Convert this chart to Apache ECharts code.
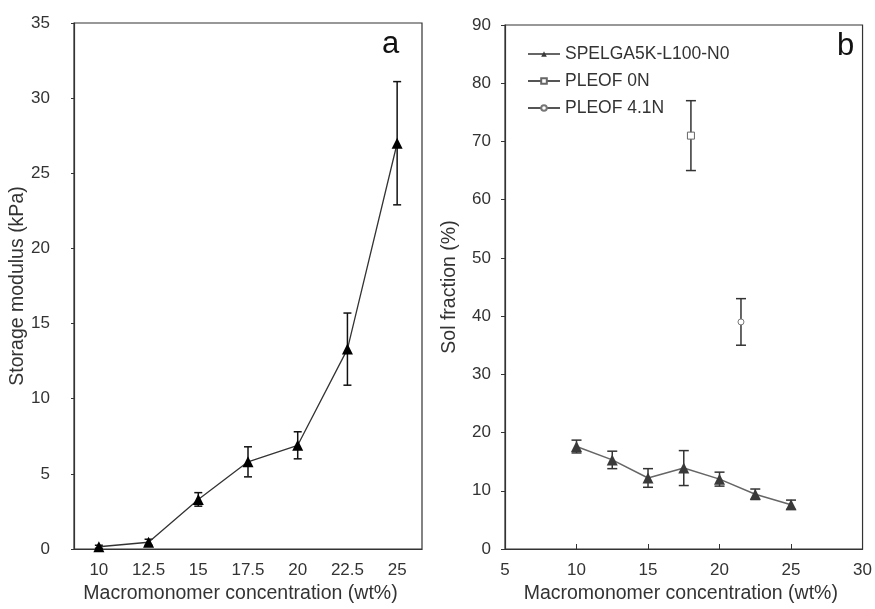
<!DOCTYPE html>
<html>
<head>
<meta charset="utf-8">
<script src="https://cdn.jsdelivr.net/npm/echarts@6/dist/echarts.min.js"></script>
<style>
    html, body { margin: 0; padding: 0; background: #fff; }
    #chart { width: 875px; height: 609px; }
</style>
</head>
<body>
<div id="chart"></div>
<script>
    // panel a
    var concA = ['10', '12.5', '15', '17.5', '20', '22.5', '25'];
    var modulus = [0.15, 0.45, 3.3, 5.8, 6.9, 13.3, 27.0];
    var modulusErr = [0.1, 0.2, 0.45, 1.0, 0.9, 2.4, 4.1];

    // panel b
    var concB = [10, 12.5, 15, 17.5, 20, 22.5, 25];
    var solFrac = [17.6, 15.3, 12.2, 13.9, 12.0, 9.4, 7.6];
    var solErr = [1.1, 1.5, 1.6, 3.0, 1.2, 0.9, 0.8];
    var pleof0X = [18], pleof0Y = [71], pleof0Err = [6];
    var pleof41X = [21.5], pleof41Y = [39], pleof41Err = [4];

    var font = 'Liberation Sans, Arial, sans-serif';

    function errData(xs, ys, errs) {
        return ys.map(function (y, i) { return [xs[i], y - errs[i], y + errs[i]]; });
    }
    function errBars(cap, color) {
        return function (params, api) {
            var lo = api.coord([api.value(0), api.value(1)]);
            var hi = api.coord([api.value(0), api.value(2)]);
            var st = { stroke: color, lineWidth: 1.5 };
            return {
                type: 'group',
                children: [
                    { type: 'line', shape: { x1: lo[0], y1: lo[1], x2: hi[0], y2: hi[1] }, style: st },
                    { type: 'line', shape: { x1: lo[0] - cap, y1: lo[1], x2: lo[0] + cap, y2: lo[1] }, style: st },
                    { type: 'line', shape: { x1: hi[0] - cap, y1: hi[1], x2: hi[0] + cap, y2: hi[1] }, style: st }
                ]
            };
        };
    }

    var chart = echarts.init(document.getElementById('chart'));
    chart.setOption({
        animation: false,
        textStyle: { fontFamily: font },
        grid: [
            { left: 74, right: 453, top: 23, bottom: 58, show: true, borderColor: '#333', borderWidth: 1.2 },
            { left: 505, right: 10, top: 25, bottom: 57, show: true, borderColor: '#333', borderWidth: 1.2 }
        ],
        legend: {
            orient: 'vertical',
            left: 522,
            top: 40,
            itemGap: 9,
            itemWidth: 32,
            itemHeight: 7,
            textStyle: { fontSize: 17.5, color: '#333', fontFamily: font },
            data: ['SPELGA5K-L100-N0', 'PLEOF 0N', 'PLEOF 4.1N']
        },
        xAxis: [
            {
                gridIndex: 0, type: 'category', data: concA, boundaryGap: true,
                name: 'Macromonomer concentration (wt%)', nameLocation: 'middle', nameGap: 35,
                nameTextStyle: { fontSize: 19.5, color: '#333', padding: [0, 15, 0, 0] },
                axisLine: { lineStyle: { color: '#333', width: 1.2 } },
                axisTick: { inside: true, length: 5, lineStyle: { color: '#333' } },
                axisLabel: { fontSize: 17, color: '#333', margin: 13 },
                splitLine: { show: false }
            },
            {
                gridIndex: 1, type: 'value', min: 5, max: 30, interval: 5,
                name: 'Macromonomer concentration (wt%)', nameLocation: 'middle', nameGap: 35,
                nameTextStyle: { fontSize: 19.5, color: '#333', padding: [0, 6, 0, 0] },
                axisLine: { lineStyle: { color: '#333', width: 1.2 } },
                axisTick: { inside: true, length: 5, lineStyle: { color: '#333' } },
                axisLabel: { fontSize: 17, color: '#333', margin: 13 },
                splitLine: { show: false }
            }
        ],
        yAxis: [
            {
                gridIndex: 0, type: 'value', min: 0, max: 35, interval: 5,
                name: 'Storage modulus (kPa)', nameLocation: 'middle', nameGap: 37,
                nameTextStyle: { fontSize: 19.5, color: '#333' },
                axisLine: { show: true, lineStyle: { color: '#333', width: 1.2 } },
                axisTick: { show: true, length: 3, lineStyle: { color: '#333' } },
                axisLabel: { fontSize: 17, color: '#333', margin: 24 },
                splitLine: { show: false }
            },
            {
                gridIndex: 1, type: 'value', min: 0, max: 90, interval: 10,
                name: 'Sol fraction (%)', nameLocation: 'middle', nameGap: 45,
                nameTextStyle: { fontSize: 19.5, color: '#333' },
                axisLine: { show: true, lineStyle: { color: '#333', width: 1.2 } },
                axisTick: { show: true, length: 4, lineStyle: { color: '#333' } },
                axisLabel: { fontSize: 17, color: '#333', margin: 14 },
                splitLine: { show: false }
            }
        ],
        graphic: [
            { type: 'text', left: 382, top: 29, style: { text: 'a', fontSize: 31, fill: '#111', fontFamily: font } },
            { type: 'text', left: 837, top: 31, style: { text: 'b', fontSize: 31, fill: '#111', fontFamily: font } }
        ],
        series: [
            {
                type: 'custom', xAxisIndex: 0, yAxisIndex: 0, z: 1,
                renderItem: errBars(4, '#111'),
                data: errData(concA.map(function (c, i) { return i; }), modulus, modulusErr)
            },
            {
                name: 'modulus', type: 'line', xAxisIndex: 0, yAxisIndex: 0, z: 3,
                data: modulus,
                symbol: 'triangle', symbolSize: 11,
                lineStyle: { color: '#333', width: 1.3 },
                itemStyle: { color: '#000' }
            },
            {
                type: 'custom', xAxisIndex: 1, yAxisIndex: 1, z: 1,
                renderItem: errBars(5, '#333'),
                data: errData(concB, solFrac, solErr)
                    .concat(errData(pleof0X, pleof0Y, pleof0Err))
                    .concat(errData(pleof41X, pleof41Y, pleof41Err))
            },
            {
                name: 'SPELGA5K-L100-N0', type: 'line', xAxisIndex: 1, yAxisIndex: 1, z: 3,
                data: concB.map(function (x, i) { return [x, solFrac[i]]; }),
                symbol: 'triangle', symbolSize: 11,
                lineStyle: { color: '#666', width: 1.5 },
                itemStyle: { color: '#3a3a3a' }
            },
            {
                name: 'PLEOF 0N', type: 'line', xAxisIndex: 1, yAxisIndex: 1, z: 3,
                data: pleof0X.map(function (x, i) { return [x, pleof0Y[i]]; }),
                symbol: 'rect', symbolSize: 7,
                lineStyle: { color: '#555', width: 1.2 },
                itemStyle: { color: '#fff', borderColor: '#666', borderWidth: 1 }
            },
            {
                name: 'PLEOF 4.1N', type: 'line', xAxisIndex: 1, yAxisIndex: 1, z: 3,
                data: pleof41X.map(function (x, i) { return [x, pleof41Y[i]]; }),
                symbol: 'circle', symbolSize: 6,
                lineStyle: { color: '#555', width: 1.2 },
                itemStyle: { color: '#fff', borderColor: '#777', borderWidth: 1 }
            }
        ]
    });
</script>
</body>
</html>
